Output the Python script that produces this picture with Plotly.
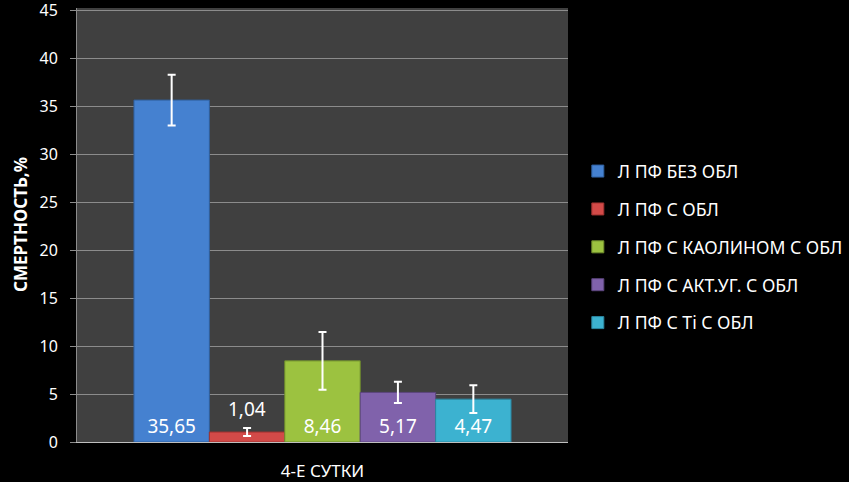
import plotly.graph_objects as go

category = ["4-Е СУТКИ"]
series_names = ["Л ПФ БЕЗ ОБЛ", "Л ПФ С ОБЛ", "Л ПФ С КАОЛИНОМ С ОБЛ",
                "Л ПФ С АКТ.УГ. С ОБЛ", "Л ПФ С Ti С ОБЛ"]
values = [35.65, 1.04, 8.46, 5.17, 4.47]
errors = [2.65, 0.42, 3.0, 1.1, 1.45]
labels = ["35,65", "1,04", "8,46", "5,17", "4,47"]
y_title = "СМЕРТНОСТЬ,%"
colors = ["#4581d0", "#d24a48", "#9cc240", "#8062ab", "#3cb2d0"]
lines = ["#2f5f9e", "#9e3230", "#6f8d2c", "#5c467e", "#2b86a0"]

FONT = "Noto Sans"
bargap = 0.232
n = len(values)
bw = (1 - bargap) / n

fig = go.Figure()
annotations = []
for i in range(n):
    small = values[i] < 3
    fig.add_trace(go.Bar(
        x=category, y=[values[i]], name=series_names[i],
        legendgroup=f"g{i}",
        marker=dict(color=colors[i], line=dict(color=lines[i], width=1)),
        error_y=dict(type="data", array=[errors[i]], color="white",
                     thickness=2, width=4),
        text=None if small else [labels[i]],
        textposition="inside", insidetextanchor="start",
        textfont=dict(color="white", size=19, family=FONT),
        cliponaxis=False,
    ))
    if small:
        annotations.append(dict(
            x=-(1 - bargap) / 2 + (i + 0.5) * bw, xref="x",
            y=values[i] + errors[i], yref="y", yanchor="bottom",
            yshift=4, text=labels[i], showarrow=False,
            font=dict(color="white", size=19, family=FONT)))

annotations.append(dict(
    x=0, xref="paper", xanchor="center", xshift=-57,
    y=0.5, yref="paper", yanchor="middle", textangle=-90,
    text=f"<b>{y_title}</b>", showarrow=False,
    font=dict(size=17, color="white", family=FONT)))

fig.update_layout(
    width=849, height=482,
    paper_bgcolor="black", plot_bgcolor="#404040",
    margin=dict(l=77, r=281, t=8, b=40, autoexpand=False),
    barmode="group", bargap=bargap, bargroupgap=0,
    font=dict(family=FONT, color="white", size=16),
    legend=dict(x=1.02, xanchor="left", y=0.449, yanchor="middle",
                font=dict(size=17.6, color="white", family=FONT),
                tracegroupgap=12, bgcolor="rgba(0,0,0,0)"),
    annotations=annotations,
    showlegend=True,
)
fig.update_yaxes(range=[0, 45.25], tickvals=list(range(0, 50, 5)),
                 showgrid=True, gridcolor="#8c8c8c", automargin=False,
                 gridwidth=1, ticks="outside", ticklen=6, tickcolor="#8c8c8c",
                 showline=True, linecolor="#8c8c8c", zeroline=False,
                 ticklabelstandoff=9, ticklabeloverflow="allow",
                 tickfont=dict(size=16, color="white", family=FONT))
fig.update_xaxes(showline=True, linecolor="#bfbfbf", linewidth=1,
                 automargin=False,
                 tickfont=dict(size=17, color="white", family=FONT),
                 ticklabelstandoff=14)

fig.write_html("out.html", config={"displayModeBar": False},
               post_script="document.body.style.margin='0';"
                           "document.body.style.overflow='hidden';"
                           "document.body.style.background='black';")
